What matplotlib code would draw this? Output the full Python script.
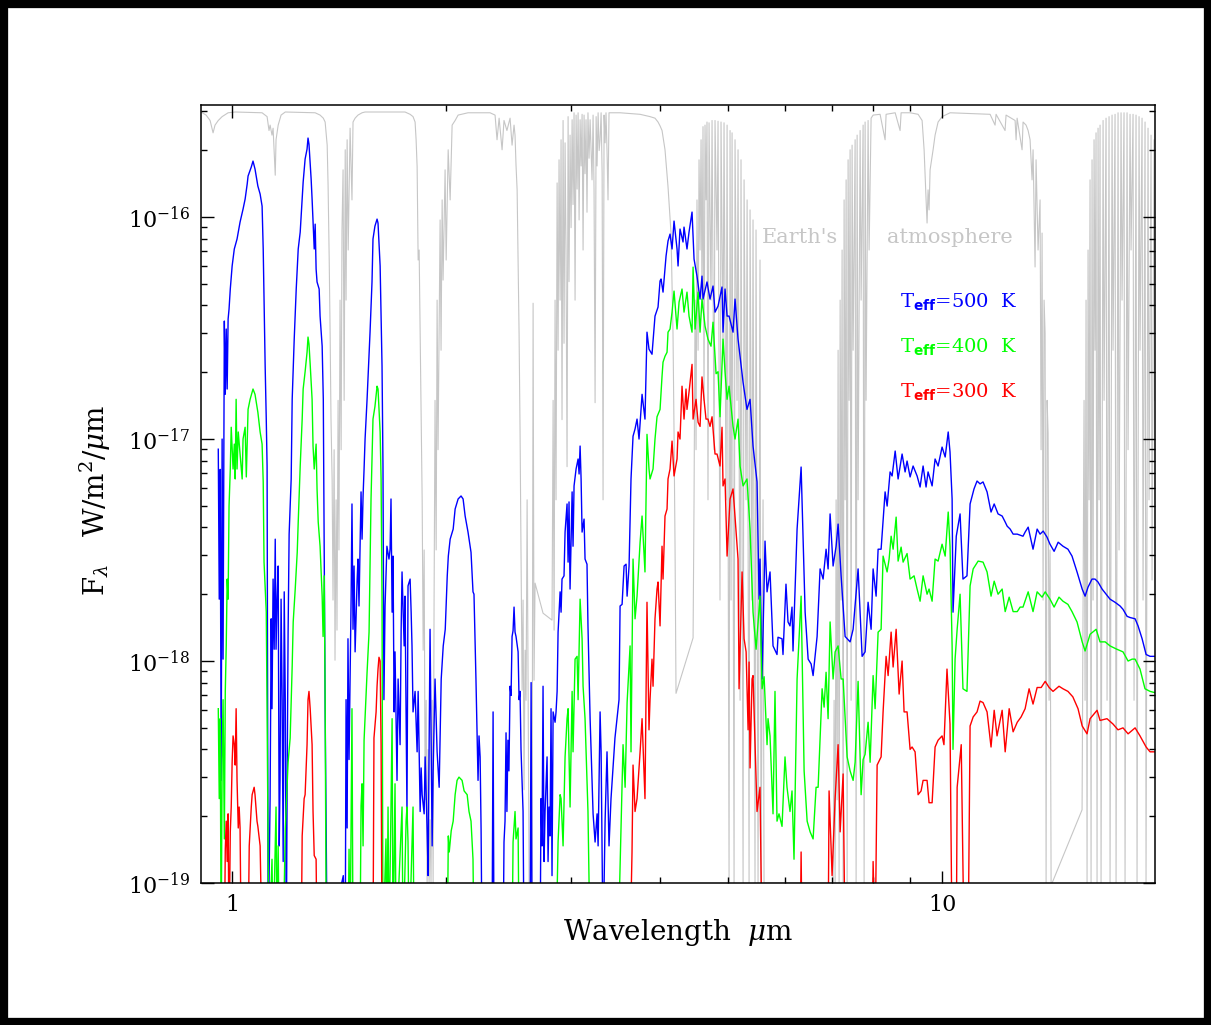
import numpy as np
import matplotlib.pyplot as plt
from matplotlib.patches import Rectangle
from matplotlib.ticker import FixedLocator, NullFormatter

plt.rcParams['font.family'] = ['DejaVu Serif']
plt.rcParams['mathtext.fontset'] = 'custom'
plt.rcParams['mathtext.rm'] = 'DejaVu Serif'
plt.rcParams['mathtext.it'] = 'DejaVu Serif:italic'
plt.rcParams['mathtext.bf'] = 'DejaVu Sans:bold'
plt.rcParams['mathtext.sf'] = 'DejaVu Sans'

# model spectra: (wavelength in micron, F_lambda in 1e-18 W/m2/micron)
# values below 0.1 sit under the plot floor
FLUX_UNIT = 1e-18

teff_500 = [
    (0.956, 9.0), (0.959, 1.9), (0.962, 7.3), (0.965, 0.29), (0.968, 10.0), (0.971, 1.02),
    (0.975, 34.0), (0.978, 15.9), (0.981, 31.3), (0.984, 16.8), (0.987, 34.7), (0.990, 38.5),
    (0.994, 47.4), (1.000, 60.2), (1.007, 71.8), (1.016, 79.6), (1.026, 94.9), (1.036, 108.6),
    (1.043, 120.5), (1.050, 140.8), (1.053, 153), (1.064, 168), (1.070, 178.7), (1.077, 164.5),
    (1.087, 137.9), (1.095, 126.9), (1.102, 112), (1.106, 71.8), (1.109, 42.7), (1.113, 21.3),
    (1.117, 12.3), (1.120, 7.56), (1.124, 0.05), (1.131, 0.24), (1.135, 1.55), (1.138, 0.61),
    (1.142, 2.34), (1.146, 1.13), (1.150, 3.54), (1.153, 1.13), (1.157, 1.90), (1.161, 2.68),
    (1.165, 0.147), (1.168, 0.29), (1.172, 1.90), (1.176, 0.67), (1.180, 0.125), (1.184, 2.05),
    (1.188, 0.67), (1.192, 0.05), (1.196, 0.40), (1.199, 1.35), (1.203, 3.73), (1.211, 6.61),
    (1.215, 15.1), (1.223, 28.2), (1.231, 47.4), (1.239, 71.8), (1.247, 85.6), (1.259, 143.8),
    (1.267, 182.5), (1.275, 202.4), (1.279, 226.9), (1.283, 213), (1.292, 148.3), (1.296, 120.5),
    (1.300, 94.9), (1.305, 71.8), (1.309, 92.9), (1.313, 58.3), (1.317, 51.0), (1.326, 47.4),
    (1.330, 35.8), (1.339, 26.2), (1.344, 15.1), (1.348, 3.19), (1.352, 0.61), (1.361, 0.05),
    (1.434, 0.108), (1.443, 0.05), (1.447, 0.67), (1.452, 0.177), (1.456, 1.26), (1.461, 0.36),
    (1.471, 1.96), (1.475, 5.10), (1.480, 1.39), (1.485, 2.68), (1.490, 1.10), (1.500, 2.34),
    (1.504, 2.88), (1.509, 1.77), (1.519, 5.78), (1.524, 3.54), (1.529, 5.54), (1.534, 7.33),
    (1.539, 10.0), (1.549, 15.1), (1.564, 30.3), (1.574, 51.0), (1.579, 79.6), (1.589, 91.0),
    (1.600, 97.9), (1.605, 93.9), (1.616, 60.2), (1.626, 21.3), (1.631, 7.56), (1.636, 0.67),
    (1.642, 1.77), (1.652, 3.29), (1.663, 2.88), (1.669, 3.19), (1.674, 5.37), (1.680, 1.66),
    (1.685, 2.97), (1.691, 0.59), (1.696, 1.10), (1.707, 0.29), (1.713, 0.83), (1.724, 0.42),
    (1.730, 1.39), (1.735, 2.52), (1.747, 1.17), (1.752, 1.96), (1.763, 0.205), (1.769, 2.18),
    (1.781, 2.34), (1.787, 1.66), (1.792, 1.17), (1.798, 0.59), (1.810, 0.73), (1.822, 0.39),
    (1.828, 0.73), (1.840, 0.21), (1.846, 0.33), (1.852, 0.25), (1.864, 0.205), (1.870, 0.37),
    (1.882, 0.175), (1.888, 0.108), (1.900, 1.39), (1.913, 0.147), (1.919, 0.32), (1.931, 0.83),
    (1.944, 0.39), (1.957, 0.27), (1.970, 0.83), (1.983, 1.17), (1.996, 1.39), (2.009, 2.42),
    (2.016, 2.97), (2.028, 3.54), (2.048, 3.93), (2.061, 4.84), (2.081, 5.37), (2.101, 5.54),
    (2.115, 5.37), (2.129, 4.50), (2.149, 3.81), (2.170, 3.09), (2.184, 2.05), (2.191, 2.00),
    (2.205, 0.83), (2.220, 0.29), (2.227, 0.46), (2.235, 0.37), (2.242, 0.175), (2.249, 0.05),
    (2.323, 0.05), (2.331, 0.59), (2.338, 0.05), (2.408, 0.05), (2.415, 0.153), (2.423, 0.19),
    (2.431, 0.475), (2.438, 0.21), (2.446, 0.44), (2.454, 0.32), (2.463, 0.77), (2.471, 0.70),
    (2.479, 1.29), (2.487, 1.37), (2.495, 1.75), (2.503, 1.35), (2.511, 1.29), (2.528, 1.10),
    (2.536, 0.67), (2.544, 0.73), (2.552, 0.40), (2.569, 0.21), (2.577, 0.05), (2.628, 0.05),
    (2.637, 0.80), (2.645, 0.05), (2.715, 0.05), (2.723, 0.24), (2.732, 0.147), (2.741, 0.77),
    (2.750, 0.125), (2.759, 0.21), (2.777, 0.37), (2.786, 0.125), (2.795, 0.22), (2.804, 0.163),
    (2.813, 0.61), (2.822, 0.108), (2.832, 0.59), (2.850, 0.53), (2.859, 0.59), (2.869, 0.73),
    (2.878, 1.35), (2.897, 2.05), (2.906, 1.66), (2.915, 2.34), (2.934, 2.42), (2.944, 3.81),
    (2.963, 5.10), (2.973, 2.79), (2.982, 5.21), (2.992, 2.11), (3.012, 5.78), (3.021, 3.29),
    (3.031, 6.15), (3.051, 7.33), (3.071, 8.13), (3.081, 6.96), (3.091, 9.30), (3.101, 6.61),
    (3.111, 3.81), (3.131, 4.36), (3.141, 2.88), (3.161, 2.73), (3.171, 1.44), (3.193, 0.55),
    (3.213, 0.29), (3.224, 0.205), (3.245, 0.153), (3.266, 0.205), (3.277, 0.147), (3.298, 0.59),
    (3.309, 0.39), (3.330, 0.05), (3.352, 0.19), (3.373, 0.39), (3.395, 0.147), (3.417, 0.24),
    (3.439, 0.33), (3.461, 0.45), (3.484, 0.55), (3.507, 0.67), (3.519, 1.77), (3.542, 1.80),
    (3.565, 2.68), (3.588, 2.73), (3.600, 1.96), (3.623, 2.68), (3.646, 6.61), (3.670, 10.3),
    (3.694, 11.1), (3.718, 12.3), (3.742, 10.0), (3.779, 15.9), (3.815, 12.3), (3.840, 30.3),
    (3.865, 25.4), (3.903, 24.1), (3.941, 35.8), (3.980, 39.3), (4.006, 51.5), (4.019, 52.6),
    (4.045, 45.9), (4.085, 66.8), (4.111, 78.0), (4.138, 83.8), (4.165, 71.8), (4.192, 95.9),
    (4.233, 71.8), (4.247, 60.2), (4.274, 88.3), (4.316, 77.2), (4.330, 90.1), (4.372, 71.8),
    (4.401, 85.6), (4.444, 105.3), (4.473, 64.7), (4.516, 54.2), (4.561, 42.7), (4.590, 54.2),
    (4.605, 42.7), (4.665, 51.0), (4.711, 42.7), (4.757, 48.9), (4.788, 37.3), (4.835, 39.7),
    (4.898, 48.4), (4.914, 30.3), (4.946, 47.4), (4.979, 35.8), (5.011, 35.8), (5.076, 30.3),
    (5.109, 42.7), (5.159, 28.2), (5.193, 23.6), (5.244, 18.0), (5.311, 13.6), (5.364, 15.1),
    (5.416, 9.30), (5.487, 6.41), (5.523, 1.90), (5.540, 2.88), (5.577, 0.83), (5.631, 3.47),
    (5.668, 2.05), (5.723, 2.52), (5.779, 1.17), (5.854, 1.07), (5.873, 1.28), (5.950, 1.26),
    (5.969, 1.07), (6.027, 2.22), (6.067, 1.50), (6.106, 1.44), (6.146, 1.75), (6.166, 1.11),
    (6.248, 3.93), (6.330, 7.48), (6.413, 1.66), (6.476, 1.02), (6.539, 0.97), (6.581, 0.86),
    (6.667, 1.29), (6.732, 2.60), (6.798, 2.34), (6.864, 3.19), (6.909, 2.60), (6.954, 4.60),
    (7.022, 2.68), (7.091, 3.29), (7.137, 4.14), (7.207, 2.42), (7.301, 1.29), (7.420, 1.22),
    (7.493, 1.39), (7.615, 2.60), (7.715, 1.05), (7.790, 1.10), (7.866, 1.84), (7.943, 1.39),
    (7.995, 2.60), (8.073, 1.96), (8.126, 3.19), (8.205, 3.19), (8.312, 5.78), (8.367, 4.99),
    (8.448, 7.11), (8.503, 6.82), (8.588, 8.83), (8.670, 6.61), (8.783, 8.56), (8.869, 7.11),
    (8.926, 7.96), (9.014, 6.75), (9.102, 7.56), (9.221, 6.82), (9.311, 6.08), (9.402, 7.56),
    (9.493, 6.08), (9.555, 7.11), (9.681, 6.15), (9.775, 8.13), (9.871, 7.56), (9.999, 9.20),
    (10.10, 8.30), (10.20, 10.76), (10.26, 8.74), (10.33, 5.37), (10.36, 1.66), (10.47, 3.65),
    (10.60, 4.60), (10.70, 2.34), (10.84, 2.42), (10.95, 5.10), (11.09, 5.96), (11.20, 6.47),
    (11.31, 6.28), (11.42, 6.41), (11.57, 5.78), (11.72, 4.69), (11.84, 5.10), (11.99, 4.60),
    (12.15, 4.50), (12.27, 4.23), (12.35, 4.05), (12.47, 3.93), (12.59, 3.73), (12.76, 3.73),
    (13.00, 3.65), (13.09, 3.81), (13.22, 4.01), (13.43, 3.19), (13.61, 3.93), (13.74, 3.73),
    (13.88, 3.85), (14.05, 3.62), (14.19, 3.36), (14.38, 3.12), (14.57, 3.43), (14.80, 3.29),
    (15.04, 3.19), (15.24, 2.97), (15.49, 2.52), (15.75, 2.11), (15.90, 1.96), (16.05, 2.15),
    (16.26, 2.34), (16.42, 2.34), (16.58, 2.27), (16.80, 2.11), (17.02, 2.00), (17.24, 1.90),
    (17.52, 1.84), (17.81, 1.77), (17.98, 1.71), (18.22, 1.59), (18.40, 1.57), (18.70, 1.55),
    (18.88, 1.44), (19.13, 1.26), (19.38, 1.07), (19.63, 1.05), (19.95, 1.05),
]

teff_400 = [
    (0.956, 0.61), (0.959, 0.24), (0.962, 0.55), (0.965, 0.05), (0.968, 0.36), (0.971, 0.67),
    (0.975, 0.158), (0.978, 0.73), (0.981, 1.17), (0.984, 2.34), (0.987, 1.90), (0.990, 4.99),
    (0.994, 7.33), (0.997, 11.3), (1.003, 7.33), (1.007, 9.49), (1.010, 6.61), (1.013, 15.1),
    (1.016, 7.33), (1.020, 10.76), (1.026, 8.56), (1.033, 6.61), (1.036, 10.0), (1.043, 11.3),
    (1.047, 6.75), (1.053, 13.6), (1.060, 15.1), (1.067, 16.3), (1.070, 16.8), (1.077, 15.9),
    (1.087, 13.2), (1.095, 10.76), (1.102, 9.49), (1.106, 6.41), (1.109, 2.79), (1.117, 1.66),
    (1.120, 0.59), (1.124, 0.125), (1.127, 0.05), (1.138, 0.128), (1.142, 0.05), (1.153, 0.22),
    (1.157, 0.05), (1.161, 0.147), (1.165, 0.05), (1.180, 0.05), (1.188, 0.175), (1.199, 0.35),
    (1.207, 0.45), (1.215, 0.95), (1.219, 1.50), (1.227, 2.11), (1.235, 3.09), (1.239, 4.23),
    (1.247, 7.56), (1.255, 12.3), (1.259, 16.8), (1.267, 20.1), (1.275, 24.6), (1.279, 28.8),
    (1.283, 26.8), (1.288, 21.7), (1.296, 15.1), (1.300, 9.30), (1.305, 7.33), (1.313, 9.49),
    (1.317, 5.96), (1.322, 4.23), (1.330, 3.29), (1.339, 1.96), (1.343, 1.29), (1.348, 2.42),
    (1.352, 0.67), (1.357, 0.05), (1.456, 0.05), (1.461, 0.142), (1.466, 0.05), (1.475, 0.61),
    (1.480, 0.05), (1.514, 0.05), (1.519, 0.223), (1.524, 0.28), (1.529, 0.147), (1.534, 0.44),
    (1.544, 0.70), (1.549, 0.89), (1.559, 1.35), (1.564, 2.79), (1.569, 5.37), (1.579, 12.3),
    (1.589, 14.0), (1.600, 17.3), (1.605, 16.8), (1.616, 10.76), (1.621, 6.61), (1.626, 1.90),
    (1.631, 0.05), (1.647, 0.158), (1.652, 0.05), (1.658, 0.22), (1.663, 0.05), (1.674, 0.22),
    (1.680, 0.55), (1.685, 0.05), (1.696, 0.28), (1.702, 0.05), (1.735, 0.22), (1.741, 0.05),
    (1.758, 0.19), (1.763, 0.22), (1.769, 0.153), (1.775, 0.05), (1.798, 0.22), (1.804, 0.05),
    (2.009, 0.05), (2.016, 0.163), (2.022, 0.138), (2.035, 0.172), (2.048, 0.19), (2.061, 0.25),
    (2.074, 0.29), (2.087, 0.30), (2.108, 0.29), (2.122, 0.26), (2.143, 0.25), (2.156, 0.21),
    (2.170, 0.19), (2.184, 0.128), (2.191, 0.05), (2.479, 0.05), (2.487, 0.153), (2.503, 0.21),
    (2.511, 0.158), (2.528, 0.177), (2.536, 0.05), (2.859, 0.05), (2.878, 0.153), (2.897, 0.25),
    (2.906, 0.24), (2.925, 0.147), (2.944, 0.37), (2.963, 0.55), (2.973, 0.61), (2.992, 0.22),
    (3.012, 0.73), (3.021, 0.39), (3.041, 1.02), (3.061, 1.05), (3.071, 0.67), (3.091, 1.90),
    (3.111, 1.26), (3.121, 0.77), (3.141, 0.55), (3.171, 0.21), (3.193, 0.05), (3.496, 0.05),
    (3.553, 0.42), (3.577, 0.27), (3.600, 0.65), (3.635, 1.17), (3.646, 0.39), (3.670, 2.88),
    (3.694, 1.55), (3.718, 1.96), (3.755, 3.43), (3.779, 4.50), (3.815, 2.52), (3.840, 10.5),
    (3.865, 7.33), (3.878, 6.61), (3.916, 7.33), (3.941, 10.0), (3.967, 12.6), (4.006, 13.6),
    (4.032, 19.2), (4.045, 22.2), (4.071, 23.6), (4.098, 24.6), (4.111, 30.3), (4.138, 31.3),
    (4.165, 37.3), (4.192, 46.4), (4.233, 31.3), (4.261, 41.4), (4.302, 47.4), (4.330, 37.3),
    (4.372, 45.9), (4.401, 35.8), (4.444, 30.3), (4.459, 59.5), (4.488, 31.3), (4.532, 45.9),
    (4.561, 30.3), (4.590, 42.7), (4.635, 32.3), (4.680, 28.2), (4.726, 26.2), (4.757, 33.6),
    (4.804, 19.7), (4.835, 20.1), (4.866, 12.6), (4.914, 28.2), (4.946, 20.1), (4.979, 15.1),
    (5.011, 17.3), (5.076, 11.4), (5.109, 10.0), (5.159, 12.3), (5.193, 7.56), (5.244, 6.15),
    (5.311, 6.61), (5.364, 3.93), (5.416, 1.66), (5.470, 1.13), (5.540, 1.96), (5.577, 0.75),
    (5.614, 0.85), (5.668, 0.42), (5.686, 0.55), (5.723, 0.46), (5.779, 0.205), (5.816, 0.73),
    (5.854, 0.19), (5.892, 0.205), (5.950, 0.18), (6.008, 0.37), (6.047, 0.27), (6.106, 0.21),
    (6.146, 0.26), (6.186, 0.128), (6.248, 0.83), (6.330, 1.96), (6.392, 0.32), (6.455, 0.19),
    (6.518, 0.17), (6.581, 0.158), (6.645, 0.27), (6.689, 0.27), (6.776, 0.75), (6.820, 0.62),
    (6.864, 0.89), (6.909, 0.55), (6.954, 1.50), (7.022, 0.83), (7.068, 1.10), (7.137, 1.17),
    (7.207, 0.83), (7.254, 0.83), (7.349, 0.37), (7.420, 0.32), (7.493, 0.29), (7.542, 0.35),
    (7.615, 0.81), (7.690, 0.25), (7.740, 0.36), (7.790, 0.38), (7.866, 0.53), (7.918, 0.35),
    (7.995, 0.86), (8.047, 0.61), (8.126, 1.35), (8.205, 1.39), (8.258, 2.97), (8.366, 2.52),
    (8.421, 2.88), (8.476, 3.65), (8.531, 3.19), (8.615, 4.45), (8.670, 2.82), (8.755, 3.26),
    (8.812, 2.79), (8.926, 3.05), (9.014, 2.34), (9.131, 2.42), (9.221, 2.11), (9.311, 1.86),
    (9.402, 2.42), (9.524, 2.00), (9.586, 2.11), (9.681, 1.86), (9.775, 2.88), (9.871, 2.82),
    (9.999, 3.36), (10.10, 2.97), (10.20, 4.69), (10.26, 3.29), (10.33, 1.17), (10.36, 0.40),
    (10.43, 1.02), (10.50, 1.39), (10.60, 2.00), (10.70, 0.75), (10.84, 0.73), (10.95, 2.18),
    (11.06, 2.60), (11.24, 2.82), (11.42, 2.79), (11.57, 2.52), (11.72, 1.96), (11.84, 2.29),
    (11.99, 2.00), (12.15, 2.11), (12.27, 1.67), (12.43, 1.94), (12.59, 1.67), (12.76, 1.67),
    (12.88, 1.75), (13.00, 1.75), (13.22, 2.05), (13.43, 1.67), (13.61, 2.05), (13.83, 1.94),
    (13.97, 2.05), (14.19, 1.90), (14.38, 1.75), (14.61, 1.94), (14.80, 1.86), (15.04, 1.80),
    (15.24, 1.67), (15.49, 1.50), (15.75, 1.22), (15.90, 1.11), (16.16, 1.32), (16.48, 1.39),
    (16.69, 1.22), (16.97, 1.22), (17.24, 1.17), (17.63, 1.13), (17.98, 1.10), (18.28, 1.00),
    (18.52, 1.02), (18.70, 1.02), (19.00, 0.92), (19.31, 0.75), (19.63, 0.73), (19.95, 0.72),
]

teff_300 = [
    (0.975, 0.05), (0.978, 0.142), (0.981, 0.19), (0.984, 0.125), (0.987, 0.205), (0.990, 0.05),
    (0.994, 0.17), (0.997, 0.22), (1.000, 0.35), (1.003, 0.46), (1.007, 0.42), (1.010, 0.34),
    (1.013, 0.61), (1.016, 0.29), (1.020, 0.177), (1.023, 0.22), (1.026, 0.177), (1.030, 0.05),
    (1.053, 0.05), (1.057, 0.147), (1.064, 0.22), (1.067, 0.25), (1.074, 0.27), (1.077, 0.25),
    (1.084, 0.19), (1.087, 0.18), (1.095, 0.147), (1.102, 0.05), (1.251, 0.05), (1.255, 0.163),
    (1.263, 0.24), (1.267, 0.25), (1.275, 0.42), (1.279, 0.67), (1.283, 0.73), (1.288, 0.61),
    (1.296, 0.42), (1.300, 0.21), (1.305, 0.133), (1.313, 0.128), (1.317, 0.05), (1.579, 0.05),
    (1.584, 0.45), (1.595, 0.59), (1.600, 0.77), (1.605, 0.92), (1.610, 1.04), (1.616, 1.00),
    (1.621, 0.42), (1.626, 0.05), (3.635, 0.05), (3.658, 0.138), (3.670, 0.34), (3.694, 0.21),
    (3.718, 0.24), (3.755, 0.39), (3.779, 0.55), (3.815, 0.24), (3.840, 1.84), (3.865, 0.49),
    (3.878, 0.67), (3.903, 1.02), (3.916, 0.77), (3.941, 1.55), (3.967, 2.11), (3.980, 2.27),
    (4.006, 1.44), (4.032, 3.29), (4.045, 2.34), (4.071, 4.50), (4.098, 4.84), (4.111, 6.61),
    (4.138, 7.33), (4.165, 9.79), (4.192, 6.82), (4.233, 8.13), (4.247, 10.76), (4.274, 10.0),
    (4.302, 17.3), (4.330, 12.3), (4.358, 16.8), (4.372, 13.6), (4.401, 16.3), (4.444, 21.7),
    (4.459, 12.3), (4.502, 15.1), (4.532, 11.9), (4.561, 11.4), (4.590, 19.05), (4.620, 15.1),
    (4.650, 12.3), (4.680, 12.3), (4.711, 11.4), (4.742, 12.6), (4.788, 8.56), (4.819, 8.56),
    (4.866, 7.56), (4.898, 11.3), (4.914, 6.15), (4.946, 6.61), (4.979, 2.97), (5.027, 5.37),
    (5.076, 5.96), (5.159, 2.88), (5.176, 0.75), (5.227, 2.52), (5.261, 1.26), (5.296, 1.10),
    (5.330, 0.49), (5.347, 0.99), (5.364, 0.33), (5.399, 0.83), (5.416, 0.86), (5.487, 0.21),
    (5.540, 0.27), (5.577, 0.05), (6.310, 0.05), (6.330, 0.138), (6.351, 0.05), (6.909, 0.05),
    (6.931, 0.26), (6.999, 0.108), (7.068, 0.24), (7.137, 0.42), (7.184, 0.17), (7.254, 0.31),
    (7.301, 0.05), (7.970, 0.05), (7.995, 0.125), (8.047, 0.05), (8.100, 0.34), (8.205, 0.37),
    (8.258, 0.59), (8.339, 1.05), (8.394, 0.86), (8.476, 1.35), (8.531, 0.94), (8.615, 1.39),
    (8.699, 0.71), (8.783, 1.00), (8.840, 0.59), (8.926, 0.59), (9.014, 0.40), (9.072, 0.41),
    (9.161, 0.39), (9.251, 0.25), (9.341, 0.26), (9.402, 0.29), (9.524, 0.29), (9.586, 0.23),
    (9.681, 0.23), (9.775, 0.41), (9.871, 0.44), (9.999, 0.46), (10.06, 0.42), (10.16, 0.92),
    (10.26, 0.52), (10.33, 0.05), (10.47, 0.05), (10.50, 0.27), (10.64, 0.42), (10.70, 0.114),
    (10.74, 0.05), (10.88, 0.05), (10.95, 0.51), (11.06, 0.56), (11.20, 0.59), (11.31, 0.66),
    (11.42, 0.65), (11.57, 0.59), (11.72, 0.41), (11.84, 0.60), (11.95, 0.46), (12.15, 0.60),
    (12.27, 0.39), (12.43, 0.61), (12.59, 0.48), (12.76, 0.53), (12.92, 0.56), (13.09, 0.61),
    (13.26, 0.75), (13.43, 0.64), (13.61, 0.76), (13.79, 0.76), (13.97, 0.81), (14.15, 0.76),
    (14.33, 0.73), (14.61, 0.77), (14.80, 0.75), (15.04, 0.73), (15.28, 0.69), (15.54, 0.61),
    (15.75, 0.51), (16.00, 0.47), (16.16, 0.55), (16.53, 0.60), (16.69, 0.54), (17.07, 0.55),
    (17.41, 0.52), (17.69, 0.49), (17.98, 0.50), (18.28, 0.47), (18.70, 0.50), (19.00, 0.46),
    (19.38, 0.41), (19.63, 0.39), (19.95, 0.39),
]

# Earth's atmospheric transmission (wavelength in micron, fraction transmitted)
atmosphere = [
    (0.904, 1.0), (0.919, 0.996), (0.931, 0.989), (0.940, 0.973), (0.946, 0.983), (0.956, 0.989),
    (0.968, 0.994), (0.987, 0.999), (1.010, 1.0), (1.102, 0.999), (1.120, 0.994), (1.127, 0.976),
    (1.131, 0.983), (1.138, 0.970), (1.142, 0.979), (1.150, 0.918), (1.153, 0.964), (1.161, 0.983),
    (1.172, 0.996), (1.188, 1.0), (1.309, 0.999), (1.330, 0.996), (1.344, 0.992), (1.352, 0.987),
    (1.357, 0.970), (1.361, 0.957), (1.365, 0.905), (1.370, 0.808), (1.374, 0.713), (1.378, 0.601),
    (1.383, 0.523), (1.387, 0.367), (1.392, 0.562), (1.396, 0.289), (1.401, 0.497), (1.405, 0.328),
    (1.410, 0.626), (1.414, 0.432), (1.419, 0.756), (1.424, 0.562), (1.428, 0.847), (1.433, 0.925),
    (1.438, 0.626), (1.443, 0.951), (1.447, 0.756), (1.452, 0.964), (1.457, 0.821), (1.466, 0.979),
    (1.475, 0.886), (1.480, 0.987), (1.490, 0.992), (1.504, 0.996), (1.524, 0.999), (1.539, 1.0),
    (1.752, 1.0), (1.781, 0.997), (1.798, 0.994), (1.810, 0.987), (1.816, 0.964), (1.822, 0.929),
    (1.828, 0.808), (1.834, 0.821), (1.840, 0.713), (1.846, 0.601), (1.852, 0.497), (1.858, 0.302),
    (1.864, 0.432), (1.870, 0.108), (1.876, 0.237), (1.882, 0.0), (1.888, 0.173), (1.894, 0.0),
    (1.900, 0.082), (1.906, 0.0), (1.913, 0.237), (1.919, 0.0), (1.925, 0.367), (1.931, 0.626),
    (1.938, 0.432), (1.944, 0.756), (1.950, 0.562), (1.963, 0.860), (1.969, 0.691), (1.976, 0.886),
    (1.982, 0.782), (1.995, 0.925), (2.002, 0.808), (2.015, 0.951), (2.028, 0.886), (2.041, 0.983),
    (2.061, 0.989), (2.081, 0.996), (2.149, 0.999), (2.308, 0.999), (2.346, 0.996), (2.361, 0.964),
    (2.377, 0.992), (2.400, 0.951), (2.415, 0.989), (2.438, 0.976), (2.463, 0.992), (2.479, 0.957),
    (2.495, 0.983), (2.503, 0.970), (2.511, 0.931), (2.520, 0.899), (2.528, 0.808), (2.536, 0.713),
    (2.544, 0.588), (2.552, 0.432), (2.561, 0.250), (2.569, 0.367), (2.577, 0.121), (2.586, 0.302),
    (2.594, 0.237), (2.603, 0.497), (2.611, 0.250), (2.620, 0.0), (2.645, 0.0), (2.654, 0.752),
    (2.662, 0.263), (2.671, 0.389), (2.741, 0.350), (2.822, 0.341), (2.832, 0.626), (2.841, 0.328),
    (2.850, 0.756), (2.859, 0.497), (2.869, 0.908), (2.878, 0.691), (2.887, 0.938), (2.897, 0.756),
    (2.906, 0.964), (2.915, 0.601), (2.925, 0.989), (2.934, 0.70), (2.944, 0.96), (2.953, 0.82),
    (2.963, 0.540), (2.973, 0.994), (2.982, 0.78), (2.992, 0.97), (3.002, 0.85), (3.012, 0.99),
    (3.021, 0.88), (3.031, 0.999), (3.041, 0.756), (3.051, 0.996), (3.061, 0.90), (3.071, 0.999),
    (3.081, 0.86), (3.091, 0.99), (3.101, 0.93), (3.111, 0.997), (3.121, 0.821), (3.131, 0.996),
    (3.141, 0.92), (3.151, 0.99), (3.161, 0.87), (3.171, 0.999), (3.182, 0.94), (3.193, 0.99),
    (3.213, 0.912), (3.224, 0.996), (3.234, 0.90), (3.245, 0.623), (3.256, 0.994), (3.266, 0.93),
    (3.277, 0.999), (3.288, 0.95), (3.298, 0.964), (3.309, 0.999), (3.320, 0.92), (3.330, 0.497),
    (3.341, 0.996), (3.352, 0.96), (3.362, 0.999), (3.373, 0.95), (3.384, 0.886), (3.395, 0.999),
    (3.519, 0.999), (3.755, 0.997), (3.878, 0.994), (3.941, 0.992), (3.980, 0.987),
    (4.006, 0.982), (4.032, 0.976), (4.071, 0.951), (4.111, 0.903), (4.151, 0.843), (4.178, 0.713),
    (4.192, 0.584), (4.206, 0.432), (4.219, 0.246), (4.459, 0.318), (4.473, 0.497), (4.488, 0.756),
    (4.502, 0.562), (4.516, 0.886), (4.532, 0.691), (4.546, 0.938), (4.561, 0.821), (4.576, 0.964),
    (4.590, 0.756), (4.605, 0.981), (4.620, 0.626), (4.635, 0.983), (4.650, 0.886), (4.665, 0.987),
    (4.680, 0.497), (4.696, 0.986), (4.726, 0.756), (4.742, 0.989), (4.773, 0.562), (4.788, 0.989),
    (4.819, 0.821), (4.835, 0.988), (4.866, 0.367), (4.882, 0.987), (4.914, 0.691), (4.930, 0.986),
    (4.962, 0.497), (4.979, 0.983), (5.011, 0.0), (5.027, 0.976), (5.043, 0.367), (5.060, 0.973),
    (5.093, 0.0), (5.109, 0.964), (5.142, 0.626), (5.159, 0.951), (5.193, 0.237), (5.209, 0.938),
    (5.244, 0.0), (5.261, 0.912), (5.295, 0.497), (5.313, 0.886), (5.347, 0.0), (5.364, 0.873),
    (5.398, 0.367), (5.416, 0.860), (5.451, 0.0), (5.469, 0.847), (5.505, 0.0), (5.540, 0.808),
    (5.558, 0.0), (5.595, 0.497), (5.613, 0.0), (7.022, 0.0), (7.045, 0.237), (7.068, 0.0),
    (7.091, 0.497), (7.114, 0.108), (7.137, 0.691), (7.160, 0.0), (7.184, 0.756), (7.207, 0.367),
    (7.230, 0.821), (7.254, 0.0), (7.277, 0.886), (7.301, 0.497), (7.325, 0.912), (7.349, 0.0),
    (7.372, 0.938), (7.396, 0.626), (7.420, 0.951), (7.444, 0.237), (7.468, 0.957), (7.493, 0.691),
    (7.542, 0.964), (7.566, 0.0), (7.591, 0.970), (7.615, 0.497), (7.665, 0.976), (7.690, 0.756),
    (7.740, 0.983), (7.765, 0.0), (7.790, 0.987), (7.815, 0.626), (7.866, 0.989), (7.892, 0.821),
    (7.943, 0.992), (7.995, 0.996), (8.178, 0.997), (8.312, 0.964), (8.339, 0.997), (8.588, 0.999),
    (8.726, 0.976), (8.755, 0.999), (9.014, 0.999), (9.251, 0.997), (9.372, 0.989), (9.433, 0.951),
    (9.464, 0.916), (9.494, 0.886), (9.524, 0.856), (9.555, 0.899), (9.586, 0.873), (9.618, 0.925),
    (9.712, 0.951), (9.775, 0.970), (9.871, 0.987), (9.999, 0.994), (10.263, 0.999), (11.684, 0.997),
    (11.874, 0.983), (11.913, 0.997), (12.265, 0.976), (12.305, 0.996), (12.671, 0.989), (12.712, 0.964),
    (12.754, 0.992), (12.961, 0.951), (13.003, 0.987), (13.130, 0.983), (13.217, 0.976), (13.302, 0.964),
    (13.388, 0.912), (13.432, 0.951), (13.519, 0.799), (13.563, 0.938), (13.651, 0.821), (13.740, 0.886),
    (13.785, 0.562), (13.830, 0.843), (13.875, 0.367), (13.920, 0.756), (13.966, 0.713), (14.011, 0.0),
    (14.057, 0.626), (14.102, 0.584), (14.148, 0.237), (14.193, 0.432), (14.240, 0.0), (14.286, 0.0),
    (15.745, 0.095), (15.796, 0.367), (15.847, 0.626), (15.899, 0.237), (15.950, 0.756), (16.002, 0.0),
    (16.054, 0.821), (16.106, 0.497), (16.158, 0.912), (16.211, 0.0), (16.263, 0.938), (16.316, 0.367),
    (16.369, 0.964), (16.422, 0.691), (16.475, 0.973), (16.529, 0.0), (16.583, 0.979), (16.637, 0.497),
    (16.691, 0.983), (16.745, 0.0), (16.855, 0.989), (16.910, 0.626), (17.019, 0.992), (17.074, 0.237),
    (17.185, 0.994), (17.241, 0.0), (17.353, 0.996), (17.409, 0.691), (17.523, 0.997), (17.580, 0.0),
    (17.694, 0.999), (17.751, 0.432), (17.867, 0.999), (17.925, 0.756), (18.041, 0.999), (18.100, 0.0),
    (18.218, 0.999), (18.278, 0.562), (18.396, 0.997), (18.456, 0.821), (18.576, 0.997), (18.636, 0.237),
    (18.757, 0.996), (18.818, 0.0), (18.941, 0.994), (19.002, 0.691), (19.126, 0.992), (19.188, 0.367),
    (19.313, 0.987), (19.375, 0.0), (19.501, 0.979), (19.565, 0.497), (19.693, 0.970), (19.757, 0.393),
    (19.886, 0.964), (19.951, 0.626),
]

series = [
    (teff_500, '#0000ff', '500'),
    (teff_400, '#00ff00', '400'),
    (teff_300, '#ff0000', '300'),
]

ATM_GREY = '#c6c6c6'


def main():
    fig = plt.figure(figsize=(12.11, 10.25), dpi=100)

    ax = fig.add_axes([0.1660, 0.1385, 0.7878, 0.7590])
    ax2 = ax.twinx()
    ax2.set_axis_off()
    ax.set_zorder(ax2.get_zorder() + 1)
    ax.patch.set_visible(False)

    # transmission curve on its own linear scale, behind the spectra
    atm = np.array(atmosphere).T
    ax2.plot(atm[0], atm[1], color=ATM_GREY, lw=0.8)
    ax2.set_ylim(0, 1.009)

    for data, colour, teff in series:
        arr = np.array(data).T
        ax.plot(arr[0], arr[1] * FLUX_UNIT, color=colour, lw=1.0)

    ax.set_xscale('log')
    ax.set_yscale('log')
    ax.set_xlim(0.904, 19.95)
    ax.set_ylim(1e-19, 3.195e-16)

    ax.xaxis.set_major_locator(FixedLocator([1, 10]))
    ax.set_xticklabels(['1', '10'], fontsize=16)
    ax.xaxis.set_minor_locator(FixedLocator([2, 3, 4, 5, 6, 7, 8, 9, 20]))
    ax.xaxis.set_minor_formatter(NullFormatter())

    ax.yaxis.set_major_locator(FixedLocator([1e-19, 1e-18, 1e-17, 1e-16]))
    ax.set_yticklabels([r'$10^{-19}$', r'$10^{-18}$', r'$10^{-17}$', r'$10^{-16}$'], fontsize=16)
    ax.yaxis.set_minor_locator(FixedLocator(
        [m * 10.0**e for e in (-19, -18, -17, -16) for m in range(2, 10)]))
    ax.yaxis.set_minor_formatter(NullFormatter())

    ax.tick_params(which='both', direction='in', top=True, right=True, width=1.0)
    ax.tick_params(which='major', length=9, pad=8)
    ax.tick_params(which='minor', length=4.5)
    for sp in ax.spines.values():
        sp.set_linewidth(1.1)

    ax.text(5.58, 8.1e-17, "Earth's", color=ATM_GREY, fontsize=15, ha='left', va='center')
    ax.text(8.37, 8.1e-17, 'atmosphere', color=ATM_GREY, fontsize=15, ha='left', va='center')

    for (data, colour, teff), y in zip(series, [4.18e-17, 2.6e-17, 1.63e-17]):
        ax.text(8.73, y, r'T$_{\mathbf{eff}}$=' + teff + '  K', color=colour,
                fontsize=14, ha='left', va='center')

    fig.text(678 / 1211, 1 - 932 / 1025, r'Wavelength  $\mu$m', fontsize=20,
             ha='center', va='center')
    fig.text(95 / 1211, 1 - 500 / 1025, r'F$_\lambda$   W/m$^2$/$\mu$m', fontsize=20,
             rotation=90, ha='center', va='center')

    # heavy frame round the whole figure
    fig.patches.append(Rectangle((0, 0), 1, 1, transform=fig.transFigure, fill=False,
                                 edgecolor='black', lw=11))

    fig.savefig('out.png', dpi=100)


if __name__ == '__main__':
    main()
